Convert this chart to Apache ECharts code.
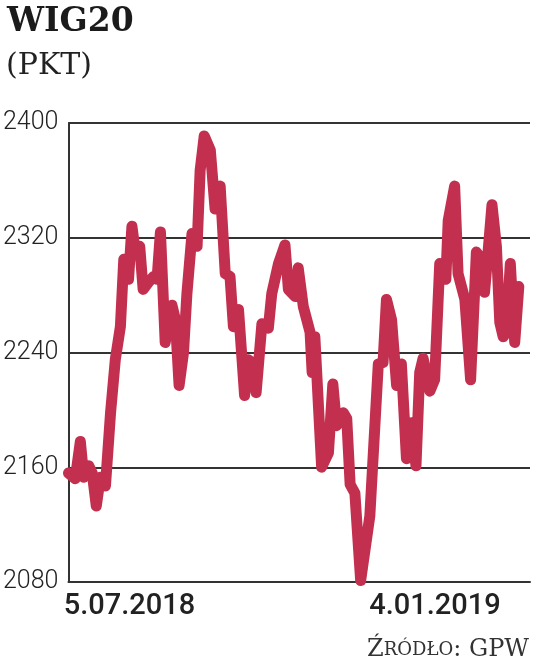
<!DOCTYPE html>
<html>
<head>
<meta charset="utf-8">
<script src="https://cdn.jsdelivr.net/npm/echarts@6/dist/echarts.min.js"></script>
<style>
  html, body { margin: 0; padding: 0; background: #fff; }
  #chart { width: 536px; height: 668px; }
</style>
</head>
<body>
<div id="chart"></div>
<script>
// numer sesji i wartość WIG20
const sessions = [0, 2, 3.5, 4.5, 6, 7, 8.2, 9.4, 10.9, 12.4, 13.8, 15.3, 16.3, 17.7, 18.7, 19.7, 21, 22, 23.6, 25.1,
  26.1, 27.1, 28.5, 30.5, 31.5, 32.6, 33.9, 34.9, 36.4, 37.9, 38.8, 40, 41.8, 43.2, 44.7, 46.2, 47.6, 48.6, 50.1, 51.9,
  53, 54, 55.3, 57, 58.9, 59.9, 61.9, 63.8, 64.8, 66.8, 67.7, 69.2, 71.2, 71.8, 72.6, 74.6, 76.6, 77.9, 79, 81,
  82, 83, 84.4, 86.1, 88.8, 91.3, 92.7, 93.7, 95.2, 96.7, 98.1, 99.6, 101.1, 102.4, 103.5, 104.5, 106.5, 107.9, 109.4, 111.2,
  111.9, 113.8, 114.8, 116.8, 118.5, 120.2, 121.7, 122.6, 123.6, 124.8, 126.1, 127.1, 128.1, 129, 130.2, 131.5, 132.7];
const values = [2156, 2152, 2178, 2153, 2161, 2156, 2133, 2153, 2147, 2198, 2235, 2258, 2305, 2291, 2328, 2310, 2314, 2284, 2289, 2293,
  2291, 2324, 2247, 2273, 2263, 2217, 2240, 2281, 2323, 2314, 2367, 2391, 2381, 2340, 2356, 2295, 2293, 2258, 2270, 2210,
  2235, 2233, 2212, 2260, 2257, 2281, 2302, 2315, 2284, 2279, 2299, 2272, 2254, 2226, 2251, 2160, 2170, 2218, 2189, 2198,
  2194, 2148, 2142, 2081, 2126, 2232, 2233, 2277, 2263, 2217, 2232, 2166, 2191, 2161, 2226, 2236, 2213, 2221, 2302, 2291,
  2332, 2356, 2295, 2277, 2221, 2310, 2305, 2282, 2309, 2343, 2314, 2261, 2251, 2254, 2302, 2247, 2286];

const dateTicks = [18, 108];
const dateLabels = ['5.07.2018', '4.01.2019'];
const yTicks = [2080, 2160, 2240, 2320, 2400];

const chart = echarts.init(document.getElementById('chart'));

chart.setOption({
  animation: false,
  backgroundColor: '#fff',
  title: [
    {
      text: 'WIG20',
      left: 2, top: 1,
      textStyle: { fontFamily: 'DejaVu Serif', fontWeight: 'bold', fontSize: 33, color: '#1b1b1b' }
    },
    {
      text: '(PKT)',
      left: 1, top: 46,
      textStyle: { fontFamily: 'DejaVu Serif', fontWeight: 'normal', fontSize: 30, color: '#222' }
    },
    {
      text: '{a|Ź}{b|RÓDŁO}{a|: GPW}',
      right: 2, bottom: 1,
      textStyle: {
        rich: {
          a: { fontFamily: 'DejaVu Serif', fontWeight: 'normal', fontSize: 24, color: '#333' },
          b: { fontFamily: 'DejaVu Serif', fontWeight: 'normal', fontSize: 18, color: '#333' }
        }
      }
    }
  ],
  grid: { left: 68, right: 6, top: 123, bottom: 86 },
  xAxis: {
    type: 'value',
    min: 0,
    max: 136,
    axisLine: { show: true, lineStyle: { color: '#333', width: 2 } },
    axisTick: { show: false },
    splitLine: { show: false },
    axisLabel: {
      customValues: dateTicks,
      formatter: v => dateLabels[dateTicks.indexOf(v)] || '',
      fontFamily: 'Roboto',
      fontWeight: 500,
      fontSize: 29,
      color: '#222',
      margin: 10
    }
  },
  yAxis: {
    type: 'value',
    min: 2080,
    max: 2400,
    interval: 80,
    axisLine: { show: true, lineStyle: { color: '#333', width: 2 } },
    axisTick: { show: false },
    splitLine: { show: true, lineStyle: { color: '#333', width: 2 } },
    axisLabel: {
      formatter: v => (yTicks.indexOf(v) >= 0 ? String(v) : ''),
      fontFamily: 'Roboto',
      fontWeight: 300,
      fontSize: 25,
      color: '#222',
      margin: 10
    }
  },
  series: [{
    type: 'line',
    data: sessions.map((s, i) => [s, values[i]]),
    showSymbol: false,
    smooth: false,
    lineStyle: { color: '#c3304f', width: 11, join: 'round', cap: 'round' }
  }]
});
</script>
</body>
</html>
